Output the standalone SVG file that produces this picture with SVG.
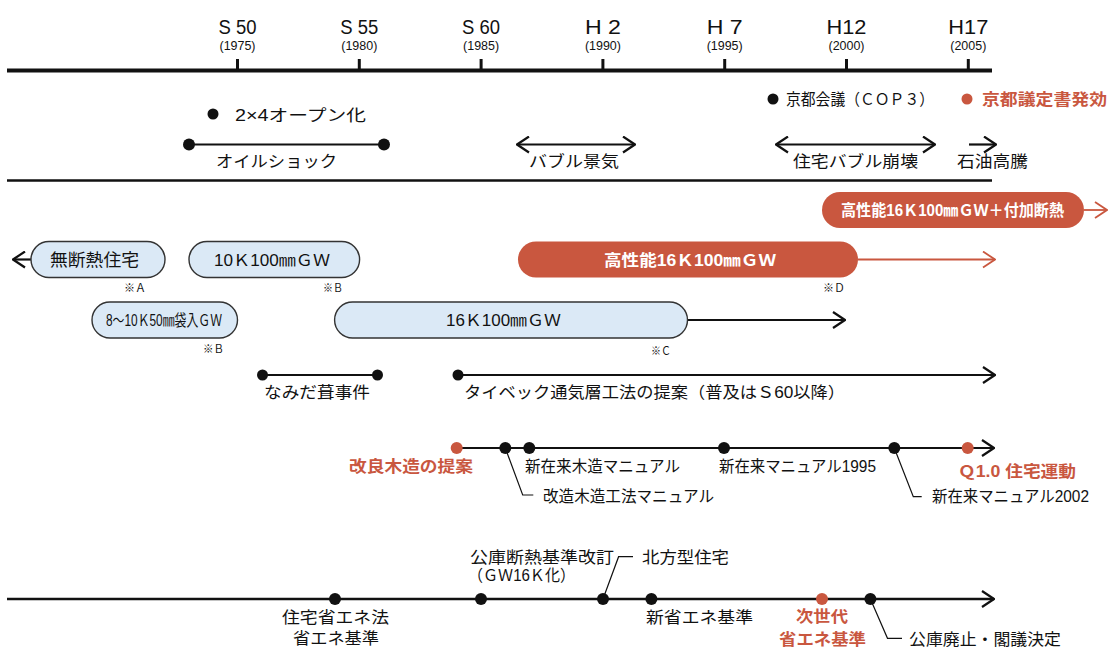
<svg xmlns="http://www.w3.org/2000/svg" width="1109" height="652" viewBox="0 0 1109 652">
<style>
text{font-family:"Liberation Sans","Noto Sans CJK JP",sans-serif;fill:#111}
.yr{font-size:20px}
.ys{font-size:12px}
.t{font-size:16px}
.b{font-size:16px}
.s{font-size:11px}
.red{fill:#c9573f;font-weight:bold}
.wh{fill:#fff;font-weight:bold}
.ln{stroke:#111;stroke-width:2.2;fill:none}
.lr{stroke:#c9573f;stroke-width:1.8;fill:none}
.ld{stroke:#111;stroke-width:1.2;fill:none}
.box{fill:#dbe9f6;stroke:#333;stroke-width:1.4}
.rbox{fill:#c9573f}
.dot{fill:#111}
.rdot{fill:#c9573f}
</style>
<defs>
<marker id="ak" viewBox="0 0 14 18" refX="13" refY="9" markerWidth="14" markerHeight="18" orient="auto-start-reverse" markerUnits="userSpaceOnUse"><path d="M1,1 L13,9 L1,17" fill="none" stroke="#111" stroke-width="2.2"/></marker>
<marker id="ar" viewBox="0 0 14 18" refX="13" refY="9" markerWidth="14" markerHeight="18" orient="auto-start-reverse" markerUnits="userSpaceOnUse"><path d="M1,1 L13,9 L1,17" fill="none" stroke="#c9573f" stroke-width="1.8"/></marker>
</defs>

<g id="axis">
<line x1="7" y1="70.5" x2="992" y2="70.5" stroke="#111" stroke-width="4"/>
<g stroke="#111" stroke-width="3">
<line x1="237.5" y1="59" x2="237.5" y2="70"/>
<line x1="359.3" y1="59" x2="359.3" y2="70"/>
<line x1="481.1" y1="59" x2="481.1" y2="70"/>
<line x1="602.9" y1="59" x2="602.9" y2="70"/>
<line x1="724.7" y1="59" x2="724.7" y2="70"/>
<line x1="846.5" y1="59" x2="846.5" y2="70"/>
<line x1="968.3" y1="59" x2="968.3" y2="70"/>
</g>
<g text-anchor="middle">
<text class="yr" x="237.5" y="34" textLength="38" lengthAdjust="spacingAndGlyphs">S 50</text>
<text class="yr" x="359.3" y="34" textLength="38" lengthAdjust="spacingAndGlyphs">S 55</text>
<text class="yr" x="481.1" y="34" textLength="38" lengthAdjust="spacingAndGlyphs">S 60</text>
<text class="yr" x="602.9" y="34" textLength="36" lengthAdjust="spacingAndGlyphs">H 2</text>
<text class="yr" x="724.7" y="34" textLength="36" lengthAdjust="spacingAndGlyphs">H 7</text>
<text class="yr" x="846.5" y="34" textLength="40" lengthAdjust="spacingAndGlyphs">H12</text>
<text class="yr" x="968.3" y="34" textLength="40" lengthAdjust="spacingAndGlyphs">H17</text>
<text class="ys" x="237.5" y="50" textLength="36" lengthAdjust="spacingAndGlyphs">(1975)</text>
<text class="ys" x="359.3" y="50" textLength="36" lengthAdjust="spacingAndGlyphs">(1980)</text>
<text class="ys" x="481.1" y="50" textLength="36" lengthAdjust="spacingAndGlyphs">(1985)</text>
<text class="ys" x="602.9" y="50" textLength="36" lengthAdjust="spacingAndGlyphs">(1990)</text>
<text class="ys" x="724.7" y="50" textLength="36" lengthAdjust="spacingAndGlyphs">(1995)</text>
<text class="ys" x="846.5" y="50" textLength="36" lengthAdjust="spacingAndGlyphs">(2000)</text>
<text class="ys" x="968.3" y="50" textLength="36" lengthAdjust="spacingAndGlyphs">(2005)</text>
</g>
<line x1="7" y1="180.5" x2="992" y2="180.5" stroke="#111" stroke-width="2.5"/>
<line x1="7" y1="599" x2="994" y2="599" stroke="#111" stroke-width="2.5" marker-end="url(#ak)"/>
</g>

<g id="connectors">
<line class="ln" x1="189" y1="144.5" x2="384" y2="144.5"/>
<line class="ln" x1="517" y1="144.5" x2="635" y2="144.5" marker-start="url(#ak)" marker-end="url(#ak)"/>
<line class="ln" x1="776" y1="144.5" x2="935" y2="144.5" marker-start="url(#ak)" marker-end="url(#ak)"/>
<line class="ln" x1="969" y1="144.5" x2="996" y2="144.5" marker-end="url(#ak)"/>
<line class="lr" x1="1084" y1="210" x2="1107" y2="210" marker-end="url(#ar)"/>
<line class="ln" x1="31" y1="259.5" x2="13" y2="259.5" marker-end="url(#ak)"/>
<line class="lr" x1="858" y1="259.5" x2="995" y2="259.5" marker-end="url(#ar)"/>
<line class="ln" x1="687.5" y1="320" x2="845" y2="320" marker-end="url(#ak)"/>
<line class="ln" x1="262.5" y1="375" x2="377.5" y2="375"/>
<line class="ln" x1="458" y1="375" x2="995" y2="375" marker-end="url(#ak)"/>
<line class="ln" x1="457" y1="448" x2="994" y2="448" marker-end="url(#ak)"/>
<polyline class="ld" points="505.3,448 522.7,495 533.3,495"/>
<polyline class="ld" points="894.3,448 913.3,496.7 921.7,496.7"/>
<polyline class="ld" points="603,599 618.6,556.7 633,556.7"/>
<polyline class="ld" points="870.4,599 887.5,638.3 902,638.3"/>
</g>

<g id="ev-2x4"><circle class="dot" cx="213" cy="114" r="5.5"/><text class="t" x="235" y="120.5" textLength="131" lengthAdjust="spacingAndGlyphs">2×4オープン化</text></g>
<g id="ev-oil"><circle class="dot" cx="189" cy="144.5" r="6"/><circle class="dot" cx="384" cy="144.5" r="6"/><text class="t" x="216" y="167" textLength="121" lengthAdjust="spacingAndGlyphs">オイルショック</text></g>
<g id="ev-bubble"><text class="t" x="529" y="167" textLength="90" lengthAdjust="spacingAndGlyphs">バブル景気</text></g>
<g id="ev-collapse"><text class="t" x="793" y="167" textLength="125" lengthAdjust="spacingAndGlyphs">住宅バブル崩壊</text></g>
<g id="ev-oilprice"><text class="t" x="957" y="167" textLength="71" lengthAdjust="spacingAndGlyphs">石油高騰</text></g>
<g id="ev-cop3"><circle class="dot" cx="773" cy="99" r="5.5"/><text class="t" x="786" y="105" textLength="148" lengthAdjust="spacingAndGlyphs">京都会議（ＣＯＰ３）</text></g>
<g id="ev-kyoto"><circle class="rdot" cx="967" cy="99" r="5.5"/><text class="t red" x="982" y="105" textLength="125" lengthAdjust="spacingAndGlyphs">京都議定書発効</text></g>

<g id="n-hp-plus"><rect class="rbox" x="822" y="192" width="262" height="36" rx="18"/><text class="b wh" x="841" y="216" textLength="223" lengthAdjust="spacingAndGlyphs">高性能16Ｋ100㎜ＧＷ＋付加断熱</text></g>
<g id="n-none"><rect class="box" x="31" y="241.5" width="134" height="36" rx="18"/><text class="t" x="50" y="265.5" font-size="17" style="font-size:17px" textLength="89" lengthAdjust="spacingAndGlyphs">無断熱住宅</text><text class="s" x="124" y="292" textLength="22" lengthAdjust="spacingAndGlyphs">※Ａ</text></g>
<g id="n-10k"><rect class="box" x="189" y="241.5" width="170.6" height="36" rx="18"/><text class="t" x="214" y="265.5" textLength="116" lengthAdjust="spacingAndGlyphs">10Ｋ100㎜ＧＷ</text><text class="s" x="323" y="292" textLength="20" lengthAdjust="spacingAndGlyphs">※Ｂ</text></g>
<g id="n-hp"><rect class="rbox" x="518" y="241.5" width="340" height="36" rx="18"/><text class="b wh" x="604" y="265.5" textLength="172" lengthAdjust="spacingAndGlyphs">高性能16Ｋ100㎜ＧＷ</text><text class="s" x="823" y="292" textLength="22" lengthAdjust="spacingAndGlyphs">※Ｄ</text></g>
<g id="n-8k"><rect class="box" x="92" y="302" width="145.5" height="36" rx="18"/><text class="t" x="106" y="326" textLength="116" lengthAdjust="spacingAndGlyphs">8～10Ｋ50㎜袋入ＧＷ</text><text class="s" x="203" y="353" textLength="21" lengthAdjust="spacingAndGlyphs">※Ｂ</text></g>
<g id="n-16k"><rect class="box" x="334.6" y="302" width="352.9" height="36" rx="18"/><text class="t" x="446" y="326" textLength="115" lengthAdjust="spacingAndGlyphs">16Ｋ100㎜ＧＷ</text><text class="s" x="651" y="355" textLength="20" lengthAdjust="spacingAndGlyphs">※Ｃ</text></g>

<g id="ev-namida"><circle class="dot" cx="262.5" cy="375" r="5.5"/><circle class="dot" cx="377.5" cy="375" r="5.5"/><text class="t" x="264" y="398" textLength="106" lengthAdjust="spacingAndGlyphs">なみだ葺事件</text></g>
<g id="ev-tyvek"><circle class="dot" cx="458" cy="375" r="5.5"/><text class="t" x="464" y="398" textLength="381" lengthAdjust="spacingAndGlyphs">タイベック通気層工法の提案（普及はＳ60以降）</text></g>

<g id="ev-kairyo"><circle class="rdot" cx="456.7" cy="448" r="6"/><text class="t red" x="349" y="472" textLength="124" lengthAdjust="spacingAndGlyphs">改良木造の提案</text></g>
<g id="ev-kaizo"><circle class="dot" cx="505.3" cy="448" r="6"/><text class="t" x="543" y="502" textLength="171" lengthAdjust="spacingAndGlyphs">改造木造工法マニュアル</text></g>
<g id="ev-shinzairai"><circle class="dot" cx="529.3" cy="448" r="6"/><text class="t" x="525" y="472" textLength="155" lengthAdjust="spacingAndGlyphs">新在来木造マニュアル</text></g>
<g id="ev-1995"><circle class="dot" cx="724" cy="448" r="6"/><text class="t" x="719" y="472" textLength="157" lengthAdjust="spacingAndGlyphs">新在来マニュアル1995</text></g>
<g id="ev-2002"><circle class="dot" cx="894.3" cy="448" r="6"/><text class="t" x="932" y="502" textLength="157" lengthAdjust="spacingAndGlyphs">新在来マニュアル2002</text></g>
<g id="ev-q1"><circle class="rdot" cx="967.7" cy="448" r="6"/><text class="t red" x="958" y="477" textLength="118" lengthAdjust="spacingAndGlyphs">Ｑ1.0 住宅運動</text></g>

<g id="ev-shoene"><circle class="dot" cx="335" cy="599" r="6"/><text class="t" x="282" y="623" textLength="107" lengthAdjust="spacingAndGlyphs">住宅省エネ法</text><text class="t" x="293" y="644" textLength="86" lengthAdjust="spacingAndGlyphs">省エネ基準</text></g>
<g id="ev-koko"><circle class="dot" cx="481" cy="599" r="6"/><text class="t" x="470" y="563" textLength="144" lengthAdjust="spacingAndGlyphs">公庫断熱基準改訂</text><text class="t" x="468" y="581" textLength="107" lengthAdjust="spacingAndGlyphs">（ＧＷ16Ｋ化）</text></g>
<g id="ev-hoppo"><circle class="dot" cx="603" cy="599" r="6"/><text class="t" x="642" y="563" textLength="87" lengthAdjust="spacingAndGlyphs">北方型住宅</text></g>
<g id="ev-shinshoene"><circle class="dot" cx="651.4" cy="599" r="6"/><text class="t" x="646" y="623" textLength="107" lengthAdjust="spacingAndGlyphs">新省エネ基準</text></g>
<g id="ev-jisedai"><circle class="rdot" cx="822" cy="599" r="6"/><text class="t red" x="796" y="622" textLength="52" lengthAdjust="spacingAndGlyphs">次世代</text><text class="t red" x="779" y="645" textLength="87" lengthAdjust="spacingAndGlyphs">省エネ基準</text></g>
<g id="ev-haishi"><circle class="dot" cx="870.4" cy="599" r="6"/><text class="t" x="909" y="645" textLength="152" lengthAdjust="spacingAndGlyphs">公庫廃止・閣議決定</text></g>
</svg>
